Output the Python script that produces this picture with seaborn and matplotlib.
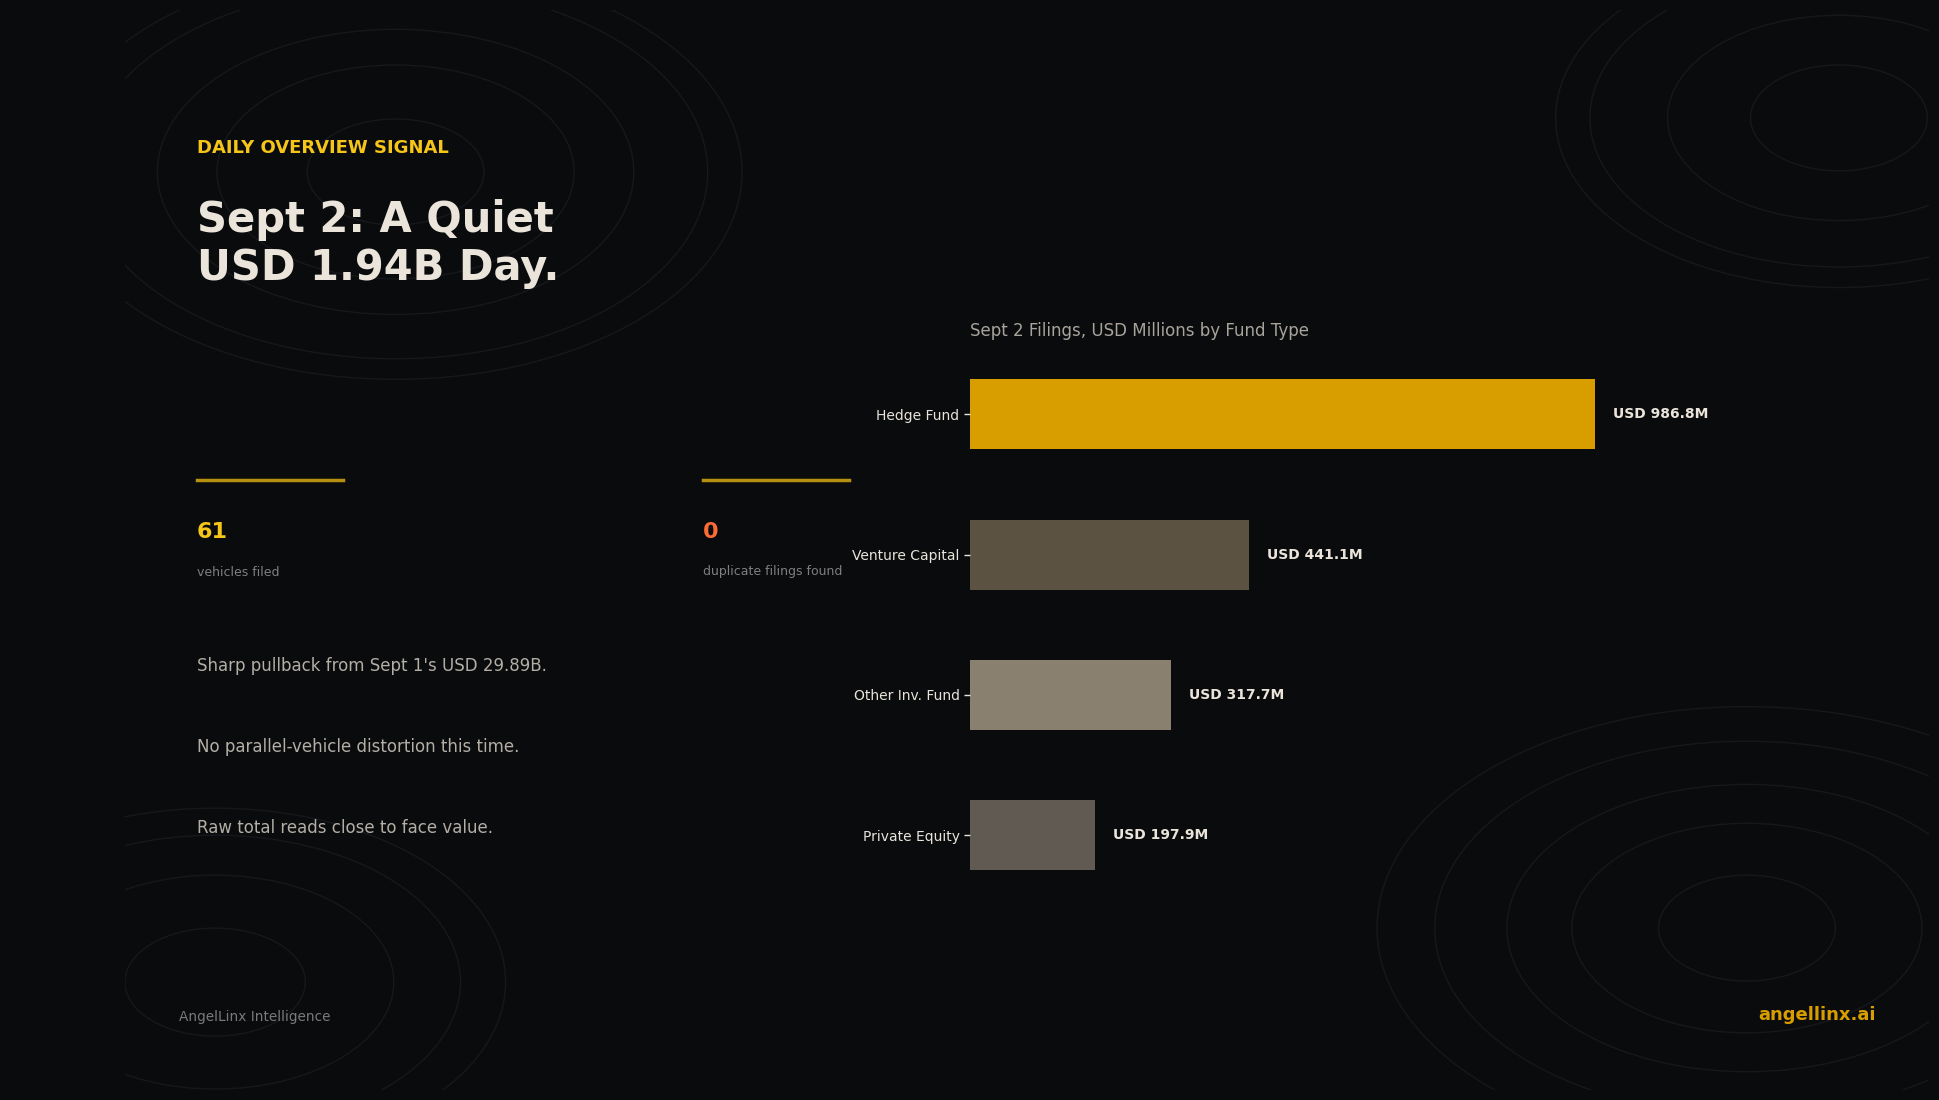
import numpy as np
import pandas as pd
import matplotlib
matplotlib.use("Agg")
import matplotlib.pyplot as plt
import seaborn as sns
from matplotlib.patches import Ellipse

# data
fund_types = ["Hedge Fund", "Venture Capital", "Other Inv. Fund", "Private Equity"]
usd_millions = [986.8, 441.1, 317.7, 197.9]
bar_colors = ["#D89E00", "#5C5242", "#8A8070", "#615A53"]
bar_labels = ["USD 986.8M", "USD 441.1M", "USD 317.7M", "USD 197.9M"]

kicker = "DAILY OVERVIEW SIGNAL"
headline = "Sept 2: A Quiet\nUSD 1.94B Day."
stat_values = ["61", "0"]
stat_labels = ["vehicles filed", "duplicate filings found"]
stat_colors = ["#F5C518", "#FF6B35"]
notes = ["Sharp pullback from Sept 1's USD 29.89B.",
         "No parallel-vehicle distortion this time.",
         "Raw total reads close to face value."]

BG = "#0A0B0D"
RING = "#17181B"

df = pd.DataFrame({"fund": fund_types, "usd": usd_millions})

fig = plt.figure(figsize=(19.4, 11), dpi=100, facecolor=BG)

# background rings
bg = fig.add_axes([0.0644, 0.009, 0.930, 0.982])
bg.set_xlim(0, 1)
bg.set_ylim(0, 1)
bg.axis("off")
rings = [((0.15, 0.85), [0.049, 0.099, 0.132, 0.173, 0.192]),
         ((0.95, 0.90), [0.049, 0.095, 0.138, 0.157]),
         ((0.899, 0.15), [0.049, 0.097, 0.133, 0.173, 0.205]),
         ((0.05, 0.10), [0.05, 0.099, 0.136, 0.161])]
for c, radii in rings:
    for r in radii:
        bg.add_patch(Ellipse(c, 2 * r, 2 * r, fill=False, ec=RING, lw=1.0))

# left column text
fig.text(197 / 1940, 1 - 148 / 1100, kicker, color="#F5C518", fontsize=13,
         fontweight="bold", va="center", ha="left")
fig.text(197 / 1940, 1 - 244 / 1100, headline, color="#EAE4DA", fontsize=30,
         fontweight="bold", va="center", ha="left", linespacing=1.2)

for i, x0 in enumerate([197, 703]):
    fig.add_artist(plt.Line2D([x0 / 1940, (x0 + 146) / 1940], [1 - 480 / 1100] * 2,
                              color="#B8900F", lw=2.5))
    fig.text(x0 / 1940, 1 - 532 / 1100, stat_values[i], color=stat_colors[i],
             fontsize=16, fontweight="bold", va="center", ha="left")
    fig.text(x0 / 1940, 1 - 572 / 1100, stat_labels[i], color="#7F7F7F",
             fontsize=9, va="center", ha="left")

for y, note in zip([666, 747, 828], notes):
    fig.text(197 / 1940, 1 - y / 1100, note, color="#B3AEA6", fontsize=12,
             va="center", ha="left")

fig.text(179 / 1940, 1 - 1017 / 1100, "AngelLinx Intelligence", color="#7A7A7A",
         fontsize=9.8, va="center", ha="left")
fig.text(1876 / 1940, 1 - 1015 / 1100, "angellinx.ai", color="#D89E00",
         fontsize=13, fontweight="bold", va="center", ha="right")

# bar chart
ax = fig.add_axes([0.5, 0.177, 0.4, 0.51])
ax.set_facecolor("none")
sns.barplot(data=df, x="usd", y="fund", hue="fund", palette=bar_colors,
            width=0.5, legend=False, saturation=1, ax=ax)
for cont, lab in zip(ax.containers, bar_labels):
    ax.bar_label(cont, labels=[lab], padding=13, color="#EAE4DA",
                 fontsize=10, fontweight="bold")
ax.set_xlim(0, 1225)
ax.set_xlabel("")
ax.set_ylabel("")
ax.set_xticks([])
ax.tick_params(axis="y", colors="#E8E4DC", labelsize=10, length=4, width=1)
for s in ax.spines.values():
    s.set_visible(False)
ax.set_title("Sept 2 Filings, USD Millions by Fund Type", loc="left",
             color="#A8A39B", fontsize=12, pad=6)

fig.savefig("out.png", dpi=100, facecolor=BG)
